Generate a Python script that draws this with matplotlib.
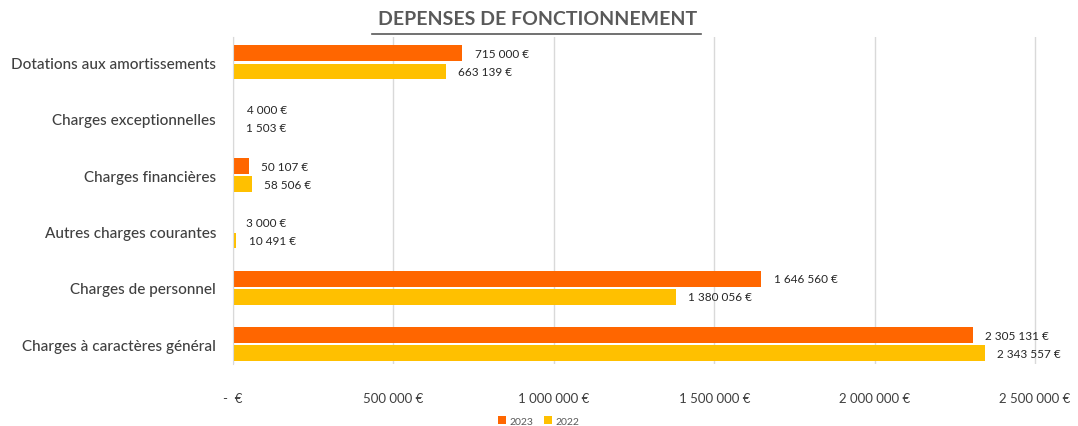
import numpy as np
import matplotlib.pyplot as plt
from matplotlib.ticker import FuncFormatter

plt.rcParams['font.family'] = ['Lato', 'DejaVu Sans']

categories = ["Charges à caractères général", "Charges de personnel",
              "Autres charges courantes", "Charges financières",
              "Charges exceptionnelles", "Dotations aux amortissements"]
val_2023 = [2305131, 1646560, 3000, 50107, 4000, 715000]
val_2022 = [2343557, 1380056, 10491, 58506, 1503, 663139]
xticks = [0, 500000, 1000000, 1500000, 2000000, 2500000]

c2023 = '#FF6600'
c2022 = '#FFC000'


def euro(v):
    if v == 0:
        return "-  €"
    return f"{int(v):,} €".replace(",", " ")


fig = plt.figure(figsize=(10.78, 4.27), dpi=100)
ax = fig.add_axes([0.216, 0.145, 0.768, 0.766])

y = np.arange(len(categories))
h = 0.28
b1 = ax.barh(y + h / 2 + 0.02, val_2023, height=h, color=c2023, label='2023')
b2 = ax.barh(y - h / 2 - 0.02, val_2022, height=h, color=c2022, label='2022')

for bars, vals in ((b1, val_2023), (b2, val_2022)):
    for bar, v in zip(bars, vals):
        ax.annotate(euro(v), (bar.get_width(), bar.get_y() + bar.get_height() / 2),
                    xytext=(9, 0), textcoords='offset points', va='center',
                    ha='left', fontsize=8.5, color='#262626')

ax.set_xlim(0, 2580000)
ax.set_ylim(-0.35, 5.45)
ax.set_yticks(y)
ax.set_yticklabels(categories, fontsize=11, color='#404040', fontweight='medium')
ax.set_xticks(xticks)
ax.xaxis.set_major_formatter(FuncFormatter(lambda v, p: euro(v)))
ax.tick_params(axis='x', labelsize=9.5, labelcolor='#404040', length=0, pad=20)
ax.tick_params(axis='y', length=0, pad=12)
ax.grid(axis='x', color='#D9D9D9', linewidth=1)
ax.set_axisbelow(True)
for s in ['top', 'right', 'bottom']:
    ax.spines[s].set_visible(False)
ax.spines['left'].set_color('#D9D9D9')

fig.text(0.499, 0.955, "DEPENSES DE FONCTIONNEMENT", ha='center', va='center',
         fontsize=14, fontweight='bold', color='#595959')
fig.add_artist(plt.Line2D([0.345, 0.650], [0.918, 0.918], color='#595959', linewidth=1.2))

fig.legend(handles=[b1, b2], loc='center', bbox_to_anchor=(0.5, 0.012),
           ncol=2, frameon=False, fontsize=7.5, handlelength=0.7, handleheight=0.7,
           columnspacing=1.0, handletextpad=0.4, labelcolor='#595959')

fig.savefig('out.png', dpi=100)
